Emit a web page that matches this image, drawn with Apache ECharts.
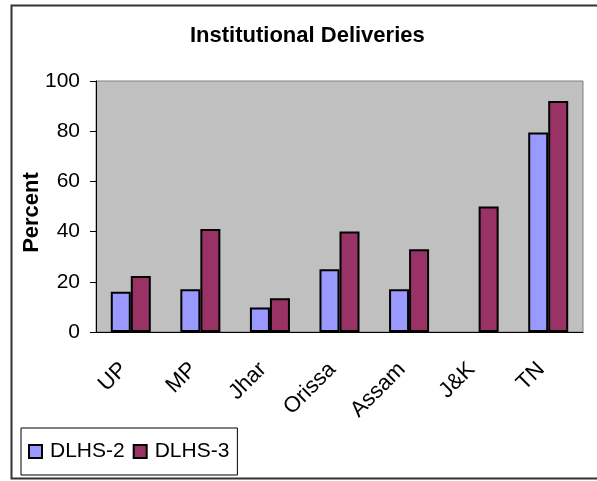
<!DOCTYPE html>
<html>
<head>
<meta charset="utf-8">
<script src="https://cdn.jsdelivr.net/npm/echarts@6/dist/echarts.min.js"></script>
<style>
  html, body { margin: 0; padding: 0; background: #fff; }
  #chart { width: 597px; height: 481px; }
</style>
</head>
<body>
<div id="chart"></div>
<script>
// states along the x axis
const states = ['UP', 'MP', 'Jhar', 'Orissa', 'Assam', 'J&K', 'TN']
// institutional deliveries, percent (J&K has no DLHS-2 bar)
const dlhs2 = [16, 17, 9.8, 25, 17, null, 79.5]
const dlhs3 = [22.3, 41, 13.4, 40, 33, 50, 92]
const yTicks = { min: 0, max: 100, step: 20 }

const FONT = "'Liberation Sans', Arial, sans-serif"

const chart = echarts.init(document.getElementById('chart'))

chart.setOption({
  backgroundColor: '#fff',
  animation: false,
  graphic: [
    {
      type: 'rect',
      shape: { x: 11.5, y: 5.5, width: 600, height: 473 },
      style: { fill: 'none', stroke: '#333', lineWidth: 2 },
      silent: true
    }
  ],
  title: {
    text: 'Institutional Deliveries',
    left: 185,
    top: 20,
    textStyle: {
      fontFamily: FONT,
      fontWeight: 'bold',
      fontSize: 22,
      color: '#000'
    }
  },
  legend: {
    left: 21,
    top: 428,
    orient: 'horizontal',
    padding: [13, 8, 13, 7],
    itemGap: 8,
    itemWidth: 13,
    itemHeight: 13,
    borderColor: '#000',
    borderWidth: 1,
    backgroundColor: '#fff',
    textStyle: {
      fontFamily: FONT,
      fontSize: 21,
      color: '#000',
      padding: [0, 0, 0, 3]
    },
    data: [
      { name: 'DLHS-2', icon: 'rect' },
      { name: 'DLHS-3', icon: 'rect' }
    ]
  },
  grid: {
    left: 96,
    right: 14,
    top: 81,
    bottom: 149,
    show: true,
    backgroundColor: '#c0c0c0',
    borderColor: '#808080',
    borderWidth: 1
  },
  xAxis: {
    type: 'category',
    data: states,
    axisLine: { lineStyle: { color: '#000', width: 1 } },
    axisTick: { length: 6, lineStyle: { color: '#000' } },
    axisLabel: {
      interval: 0,
      rotate: 45,
      margin: 27,
      padding: [0, 10, 0, 0],
      fontFamily: FONT,
      fontSize: 22,
      color: '#000'
    }
  },
  yAxis: {
    type: 'value',
    min: yTicks.min,
    max: yTicks.max,
    interval: yTicks.step,
    name: 'Percent',
    nameLocation: 'middle',
    nameRotate: 90,
    nameGap: 53,
    nameMoveOverlap: false,
    nameTextStyle: {
      fontFamily: FONT,
      fontWeight: 'bold',
      fontSize: 22,
      color: '#000',
      padding: [0, 12, 0, 0]
    },
    splitLine: { show: false },
    axisLine: { show: true, lineStyle: { color: '#000', width: 1 } },
    axisTick: { show: true, length: 6, lineStyle: { color: '#000' } },
    axisLabel: {
      margin: 16,
      fontFamily: FONT,
      fontSize: 21,
      color: '#000'
    }
  },
  series: [
    {
      name: 'DLHS-2',
      type: 'bar',
      data: dlhs2,
      barGap: '0%',
      barCategoryGap: '42.5%',
      itemStyle: { color: '#9999ff', borderColor: '#000', borderWidth: 2 }
    },
    {
      name: 'DLHS-3',
      type: 'bar',
      data: dlhs3,
      barGap: '0%',
      barCategoryGap: '42.5%',
      itemStyle: { color: '#993366', borderColor: '#000', borderWidth: 2 }
    }
  ]
})
</script>
</body>
</html>
